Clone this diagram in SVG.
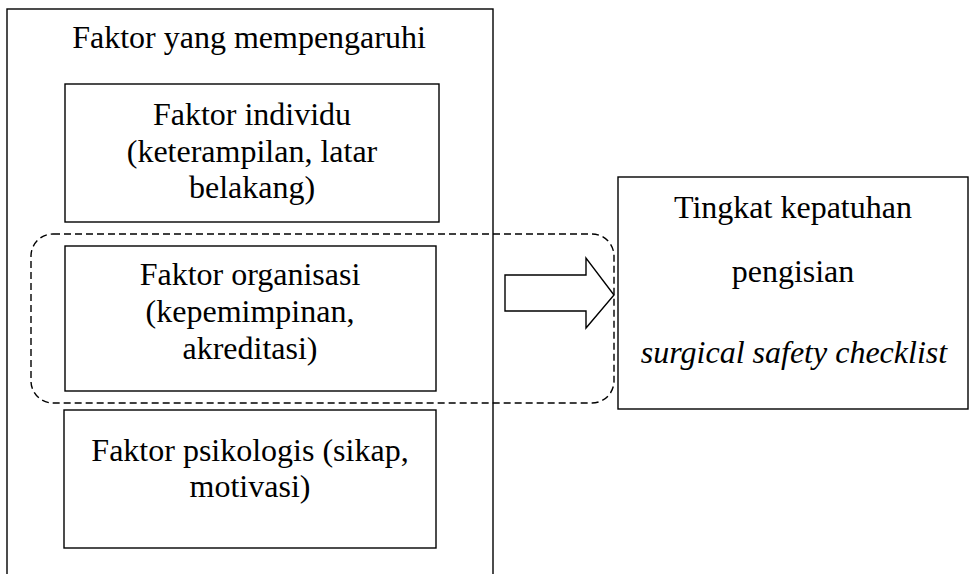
<svg xmlns="http://www.w3.org/2000/svg" width="970" height="574" viewBox="0 0 970 574">
<style>
.box{fill:#fff;stroke:#000;stroke-width:1.4}
text{font-family:'Liberation Serif','Times New Roman',serif;font-size:32px;fill:#000;text-anchor:middle}
.i{font-style:italic}
.dash{fill:none;stroke:#000;stroke-width:1.4;stroke-dasharray:7 4}
</style>
<rect width="970" height="574" fill="#fff"/>
<g id="outer">
<rect class="box" x="7" y="9" width="486" height="580"/>
<text x="249" y="48">Faktor yang mempengaruhi</text>
</g>
<g id="individu">
<rect class="box" x="65" y="84" width="374" height="138"/>
<text x="252" y="125">Faktor individu</text>
<text x="252" y="162">(keterampilan, latar</text>
<text x="252" y="198">belakang)</text>
</g>
<g id="organisasi">
<rect class="box" x="65" y="246" width="371" height="145"/>
<text x="250" y="285">Faktor organisasi</text>
<text x="250" y="322">(kepemimpinan,</text>
<text x="250" y="359">akreditasi)</text>
</g>
<g id="psikologis">
<rect class="box" x="64" y="410" width="372" height="138"/>
<text x="250" y="461">Faktor psikologis (sikap,</text>
<text x="250" y="497">motivasi)</text>
</g>
<g id="kepatuhan">
<rect class="box" x="618" y="177" width="350" height="232"/>
<text x="793" y="218">Tingkat kepatuhan</text>
<text x="793" y="282">pengisian</text>
<text class="i" x="794" y="363">surgical safety checklist</text>
</g>
<g id="connectors">
<rect class="dash" x="31" y="234" width="583" height="169" rx="22" ry="22"/>
<polygon class="box" points="505,275 586,275 586,258 614,295 586,328 586,311 505,311"/>
</g>
</svg>
